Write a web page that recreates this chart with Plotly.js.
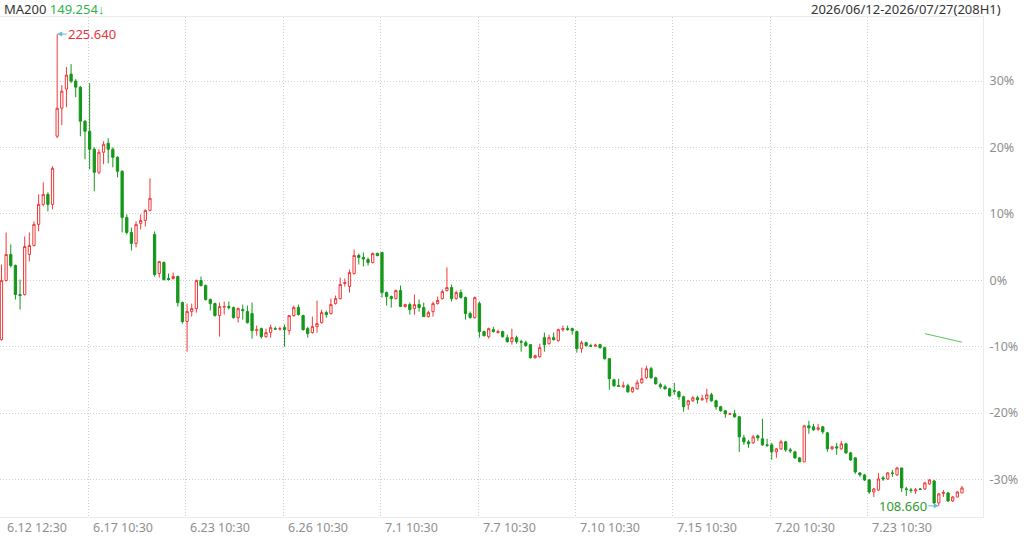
<!DOCTYPE html>
<html>
<head>
<meta charset="utf-8">
<script src="https://cdn.plot.ly/plotly-3.0.1.min.js"></script>
<style>
html,body{margin:0;padding:0;background:#fff;}
#chart{width:1024px;height:537px;}
</style>
</head>
<body>
<div id="chart"></div>
<script>
// ---- data (prices, 208 hourly candles) ----
const opens = [149.88,164.53,171.00,168.26,161.06,161.06,171.00,173.23,178.45,183.42,
185.90,183.42,200.31,207.27,211.99,215.72,213.98,212.49,204.04,201.55,
197.08,191.37,196.34,198.57,197.08,195.09,191.62,180.19,176.46,173.73,
178.70,179.44,181.93,175.96,166.27,169.01,165.03,165.03,165.53,159.07,
154.35,156.83,157.58,164.53,163.29,159.82,158.82,155.84,157.95,158.08,
157.83,155.34,157.33,156.83,156.34,152.11,152.61,150.62,151.62,152.61,
152.49,152.86,152.11,155.84,157.83,155.84,152.61,151.62,153.11,154.10,
156.59,156.34,158.82,160.06,163.79,163.04,166.27,170.75,170.25,169.75,
169.01,171.24,171.49,161.55,160.56,160.06,162.05,158.08,158.57,157.58,
158.57,157.83,155.59,156.83,158.82,160.06,162.05,162.80,160.06,161.55,
160.31,156.34,155.34,158.82,151.87,150.62,152.36,151.62,151.87,150.37,
149.38,150.37,149.38,149.13,148.64,145.40,145.65,150.37,148.88,150.37,
149.63,152.36,152.61,152.61,151.87,147.64,149.13,148.39,148.26,148.64,
147.89,145.16,139.94,138.45,138.20,138.45,136.96,137.70,139.19,140.43,
142.67,140.43,138.70,138.20,137.70,137.21,136.96,135.71,133.73,134.72,
135.47,134.97,135.22,136.21,134.72,133.23,132.24,131.37,131.49,130.75,
125.53,124.54,124.29,126.03,125.28,123.79,123.79,122.05,122.80,124.54,
122.55,122.05,120.56,119.57,128.51,128.26,127.64,128.26,126.77,122.80,
123.29,122.80,124.04,121.80,120.56,116.83,116.34,115.09,112.11,112.61,
115.59,115.34,116.83,116.34,118.07,112.86,112.61,112.36,112.86,112.86,
114.10,114.84,109.38,111.74,111.86,109.88,110.87,111.86];

const closes = [164.53,171.00,168.26,161.06,160.81,172.98,173.23,178.45,183.42,185.90,
183.42,192.36,207.27,211.49,215.47,213.98,212.49,204.04,201.55,197.08,
191.37,196.34,198.33,197.08,195.09,191.62,180.19,176.46,173.73,178.45,
179.44,181.93,184.91,166.02,169.26,164.78,164.78,165.53,159.07,154.35,
156.83,157.58,164.53,163.29,159.82,158.82,155.84,158.08,158.08,157.83,
155.34,157.58,157.08,154.10,152.11,152.36,150.62,151.62,152.86,152.49,
152.61,152.36,155.84,157.83,156.09,152.36,151.37,153.11,153.85,156.59,
156.09,158.57,160.06,163.54,164.04,166.52,170.75,170.25,169.88,169.01,
171.24,170.75,161.55,160.56,160.06,162.05,158.08,158.57,157.33,158.57,
157.83,155.59,156.59,158.82,159.57,161.80,162.80,160.06,161.55,160.31,
156.34,155.34,160.31,151.87,150.87,152.61,151.87,151.87,150.62,149.38,
150.37,149.38,149.26,148.39,145.40,145.90,147.89,148.64,150.37,149.88,
152.36,152.61,152.36,152.11,147.64,149.13,148.39,148.26,148.51,147.89,
145.16,140.19,138.45,138.33,138.45,136.96,137.95,139.19,140.19,142.67,
140.43,138.95,138.20,137.70,135.96,137.08,135.71,133.23,134.72,135.47,
134.97,135.22,136.21,134.72,133.23,132.24,131.49,131.49,130.75,125.78,
124.54,124.04,125.78,125.53,123.79,123.67,122.05,122.80,124.54,122.55,
122.30,120.56,119.57,128.51,128.01,127.52,128.01,127.02,122.80,123.29,
123.04,124.04,121.80,120.06,117.08,116.34,115.09,112.11,112.86,115.34,
115.34,116.83,116.71,118.07,113.11,112.74,112.49,112.61,112.74,114.35,
115.09,109.38,111.62,111.99,109.88,110.87,112.11,113.11];

const highs = [168.51,176.46,173.48,168.51,164.78,175.47,176.46,179.19,185.90,188.88,
186.40,192.86,225.64,212.98,217.46,218.20,214.47,212.74,204.29,213.48,
197.58,197.08,199.07,199.82,197.58,195.34,191.87,180.93,177.70,179.19,
180.93,182.17,189.88,176.71,169.26,169.26,166.27,166.52,165.78,159.32,
158.82,158.82,164.78,165.53,163.54,160.06,159.07,159.07,159.32,159.32,
158.08,157.83,158.57,158.32,159.07,153.36,152.86,152.61,153.61,153.11,
153.11,153.61,155.84,158.32,158.57,156.09,153.11,155.59,159.57,157.33,
157.08,160.06,160.81,165.28,165.03,167.27,172.24,171.24,171.49,170.25,
171.49,171.49,171.49,161.80,160.81,162.30,163.29,158.82,159.07,161.06,
159.82,159.07,157.08,159.32,160.56,162.30,167.77,163.54,162.05,162.30,
160.56,156.83,160.56,159.32,152.11,152.86,153.11,152.36,152.11,151.12,
152.61,150.87,149.88,149.63,148.64,146.15,148.88,151.62,151.12,151.62,
152.61,153.36,153.36,152.86,152.11,149.63,149.38,148.88,148.88,148.88,
148.14,145.16,140.19,140.19,139.44,138.95,138.20,139.94,142.92,143.42,
143.17,140.68,139.19,138.70,137.95,139.19,137.21,135.96,134.97,135.96,
135.96,136.21,137.70,136.71,134.97,133.48,132.49,131.74,132.49,131.00,
126.27,125.03,126.27,126.27,130.25,125.28,124.29,123.04,125.03,124.78,
123.04,122.30,120.81,128.76,129.75,129.01,129.01,128.51,127.02,123.54,
124.29,124.78,124.29,122.05,120.81,117.08,116.58,115.34,113.11,116.83,
116.09,117.08,117.58,118.32,118.07,113.36,113.11,113.11,113.11,114.60,
115.34,115.09,111.86,112.61,112.11,111.12,112.36,113.60];

const lows = [149.63,164.29,167.77,159.82,157.33,160.81,169.26,172.98,176.71,182.92,
181.68,182.17,199.82,203.04,207.52,213.48,210.00,200.31,194.60,192.11,
186.65,190.87,193.36,193.61,192.61,190.12,176.46,175.96,171.99,172.73,
177.21,177.95,181.68,165.53,165.28,164.53,164.53,164.78,158.08,153.85,
146.89,155.59,156.59,163.04,159.57,157.08,155.59,150.62,156.09,157.33,
155.09,154.10,154.85,153.85,150.12,150.87,150.12,150.37,150.37,152.36,
152.11,148.14,151.12,155.59,155.84,152.11,150.37,151.37,151.62,153.85,
155.34,156.09,158.57,159.82,163.04,161.55,166.02,168.51,168.02,168.26,
168.76,170.50,160.31,158.32,157.83,159.82,158.08,157.83,156.09,156.09,
156.83,155.59,155.34,155.59,158.57,159.82,161.80,159.32,159.82,160.06,
154.85,155.09,155.09,150.37,150.62,150.12,151.62,151.37,150.37,149.13,
148.64,148.88,146.89,148.14,145.16,145.16,145.40,146.89,148.64,149.63,
149.38,151.87,152.11,151.12,146.65,146.65,148.14,148.14,148.14,147.64,
144.91,137.45,138.20,138.20,137.95,136.71,136.71,137.45,138.95,140.19,
140.19,138.70,137.70,137.45,135.71,136.21,134.97,131.99,132.49,134.47,
133.98,134.72,134.23,134.47,132.49,131.99,130.50,131.24,130.50,122.05,
123.79,123.04,124.04,124.78,123.54,123.29,120.06,120.56,122.55,122.05,
121.80,120.31,119.57,119.57,126.52,127.27,127.27,126.52,122.05,122.55,
121.30,122.55,121.56,119.82,116.58,115.84,114.84,111.62,110.87,112.36,
114.84,115.09,115.84,116.09,112.11,111.12,111.86,111.62,112.61,112.61,
113.85,109.13,108.66,110.87,109.63,109.63,110.87,111.86];

const maStart = 199;
const ma200 = [151.36,151.12,150.86,150.61,150.32,150.04,149.79,149.51,149.254];

const basePrice = 164.6;
const pctTicks = [30,20,10,0,-10,-20,-30];
const xLabels = ["6.12 12:30","6.17 10:30","6.23 10:30","6.26 10:30","7.1 10:30",
                 "7.7 10:30","7.10 10:30","7.15 10:30","7.20 10:30","7.23 10:30"];
const xLabelIdx = [0.75,19.25,40.25,61.25,82.25,103.25,124.25,145.25,166.25,187.25];
const gridIdx = [18.7,39.7,60.7,81.7,102.7,123.7,144.7,165.7,186.7];
const rangeText = "2026/06/12-2026/07/27(208H1)";

// ---- build ----
const idx = opens.map((_, i) => i);
let hiI = 0, loI = 0;
highs.forEach((v, i) => { if (v > highs[hiI]) hiI = i; });
lows.forEach((v, i) => { if (v < lows[loI]) loI = i; });

const FONT = '"Noto Sans", "Open Sans", sans-serif';
const RED = '#f03a3a', GREEN = '#14981a';
const GRID = '#cfcfcf';

const traces = [{
  type: 'candlestick',
  x: idx, open: opens, high: highs, low: lows, close: closes,
  increasing: {line: {color: RED, width: 1}, fillcolor: '#ffffff'},
  decreasing: {line: {color: GREEN, width: 1}, fillcolor: GREEN},
  whiskerwidth: 0,
  hoverinfo: 'skip',
  showlegend: false
}, {
  type: 'scatter', mode: 'lines',
  x: ma200.map((_, i) => maStart + i), y: ma200,
  line: {color: '#5cc45c', width: 1},
  hoverinfo: 'skip', showlegend: false
}];

const annotations = [];
xLabels.forEach((t, k) => {
  annotations.push({
    x: xLabelIdx[k], xref: 'x', y: -0.02, yref: 'paper',
    xanchor: 'left', yanchor: 'middle', showarrow: false,
    text: t, font: {family: FONT, size: 12.5, color: '#8f8f8f'}
  });
});
annotations.push({
  x: 0.002, xref: 'paper', y: 1.016, yref: 'paper',
  xanchor: 'left', yanchor: 'middle', showarrow: false,
  text: 'MA200 <span style="color:#33b24a">' + ma200[ma200.length - 1].toFixed(3) + '↓</span>',
  font: {family: FONT, size: 13, color: '#333333'}
});
annotations.push({
  x: 1.0205, xref: 'paper', y: 1.016, yref: 'paper',
  xanchor: 'right', yanchor: 'middle', showarrow: false,
  text: rangeText, font: {family: FONT, size: 13, color: '#333333'}
});
annotations.push({
  x: hiI, y: highs[hiI], xref: 'x', yref: 'y',
  text: highs[hiI].toFixed(3), showarrow: true,
  ax: 35, ay: 0, arrowhead: 2, arrowsize: 1, arrowwidth: 1,
  arrowcolor: '#6bb8d6', standoff: 0,
  font: {family: FONT, size: 13, color: '#e8343c'}
});
annotations.push({
  x: loI, y: lows[loI], xref: 'x', yref: 'y',
  text: lows[loI].toFixed(3), showarrow: true,
  ax: -36, ay: 0, arrowhead: 2, arrowsize: 1, arrowwidth: 1,
  arrowcolor: '#6bb8d6', standoff: 0,
  font: {family: FONT, size: 13, color: '#2e9d2e'}
});

const layout = {
  width: 1024, height: 537,
  margin: {l: 0, r: 41, t: 17, b: 20, pad: 0},
  paper_bgcolor: '#ffffff', plot_bgcolor: '#ffffff',
  showlegend: false, hovermode: false,
  font: {family: FONT, size: 13, color: '#8c8c8c'},
  xaxis: {
    type: 'linear', range: [-0.32, 211.53],
    tickvals: gridIdx, showticklabels: false, ticks: '',
    showgrid: true, gridcolor: GRID, griddash: '1px,2px', gridwidth: 1,
    zeroline: false, showline: true, linecolor: '#ebebeb', mirror: true,
    rangeslider: {visible: false}, fixedrange: true
  },
  yaxis: {
    side: 'right', range: [105.9, 229.88],
    tickvals: pctTicks.map(p => basePrice * (1 + p / 100)),
    ticktext: pctTicks.map(p => p + '%'),
    ticks: '', ticklabelstandoff: 3,
    tickfont: {family: FONT, size: 12.5, color: '#8f8f8f'},
    showgrid: true, gridcolor: GRID, griddash: '1px,2px', gridwidth: 1,
    zeroline: false, showline: true, linecolor: '#ebebeb', mirror: true,
    fixedrange: true
  },
  annotations: annotations
};

Plotly.newPlot('chart', traces, layout, {staticPlot: true, displayModeBar: false});
</script>
</body>
</html>
